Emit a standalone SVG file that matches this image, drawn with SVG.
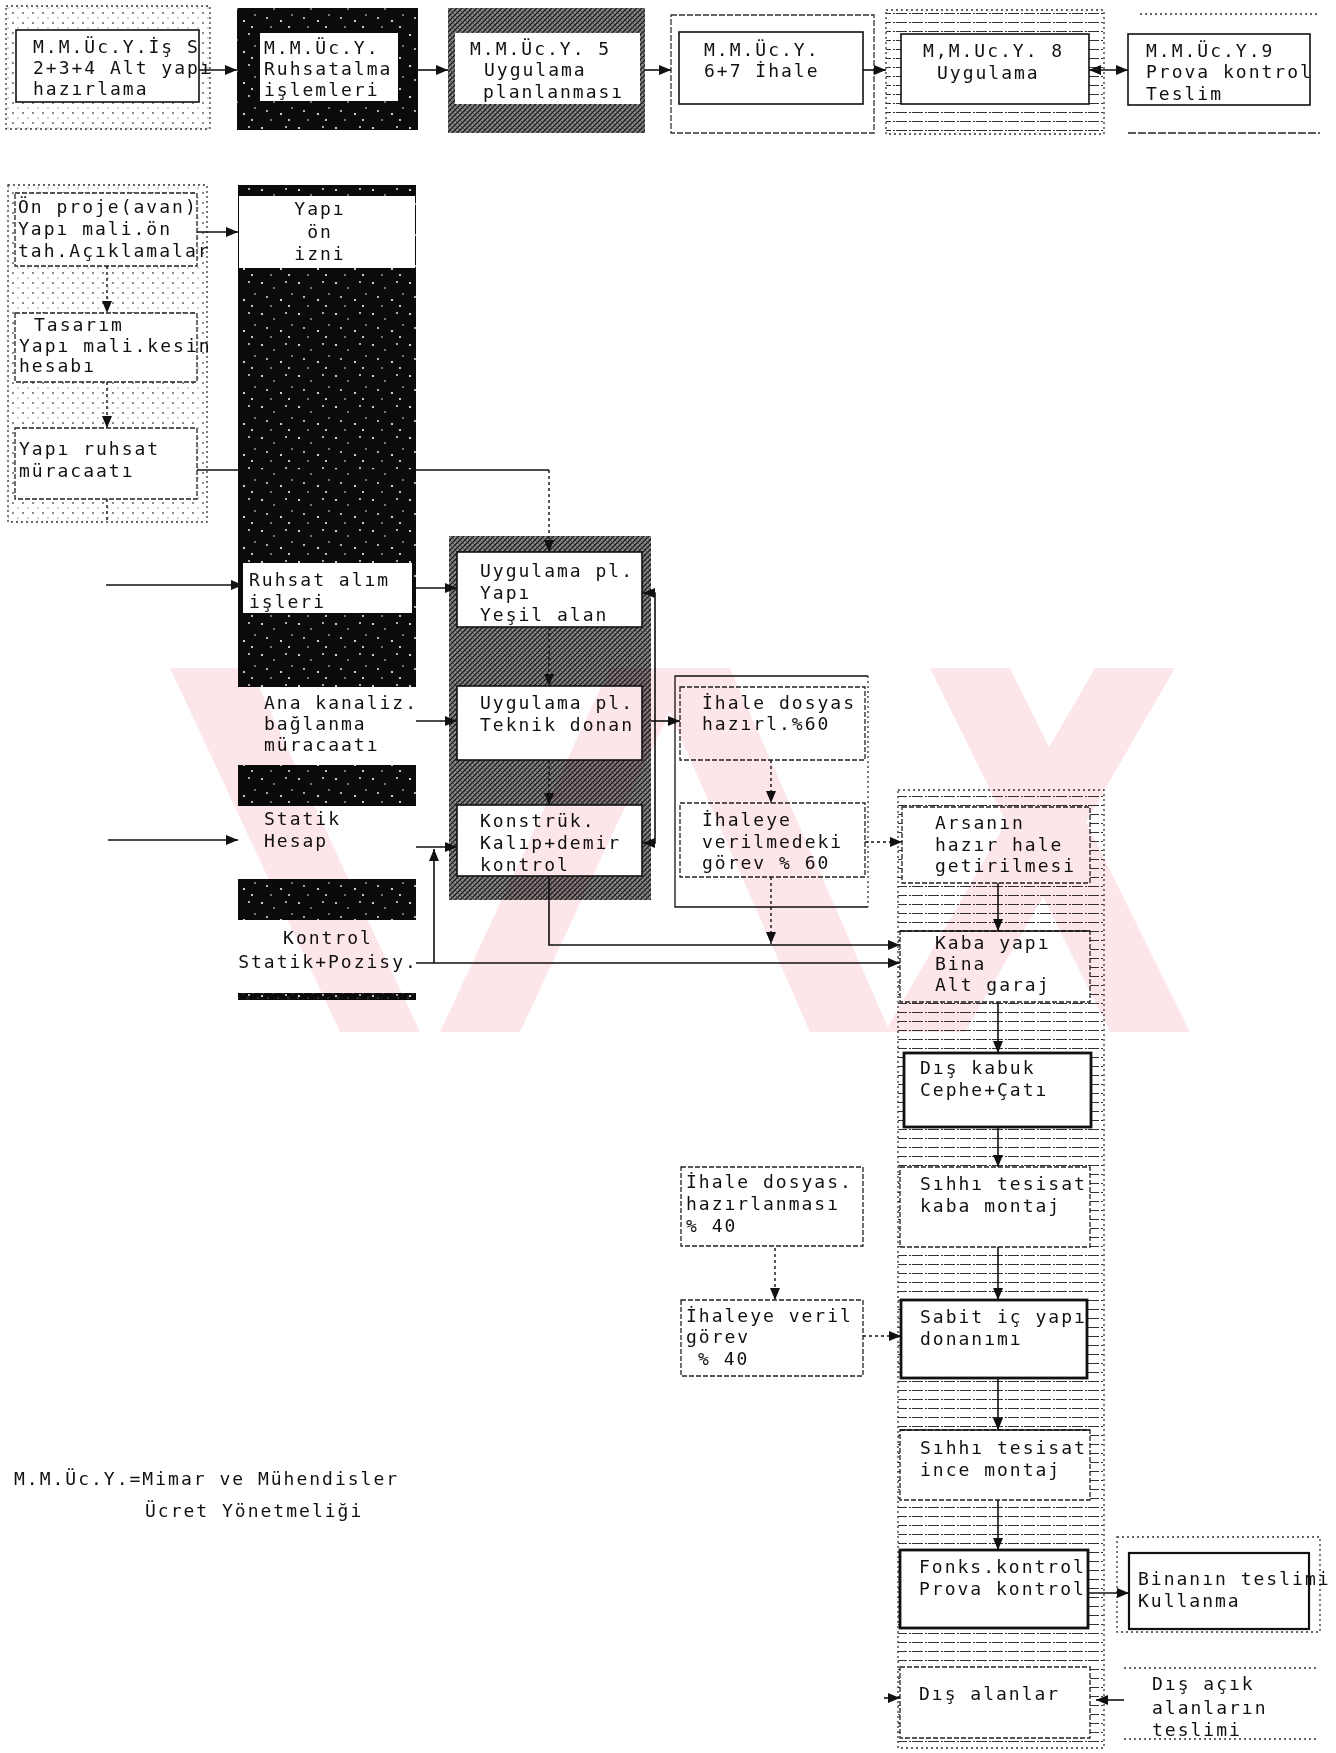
<svg xmlns="http://www.w3.org/2000/svg" width="1336" height="1753" viewBox="0 0 1336 1753">
<defs>
<style>
text{font-family:"DejaVu Sans Mono","Liberation Mono",monospace;font-size:18px;letter-spacing:2px;fill:#111}
.c{text-anchor:middle}
.box{fill:#fff;stroke:#111;stroke-width:1.6}
.wb{fill:#fff;stroke:none}
.thick{fill:#fff;stroke:#111;stroke-width:2.8}
.dbox{fill:#fff;stroke:#222;stroke-width:1.3;stroke-dasharray:5 2}
.dotf{stroke:#333;stroke-width:1.3;stroke-dasharray:2 3}
.ln{fill:none;stroke:#111;stroke-width:1.6}
.dl{fill:none;stroke:#111;stroke-width:1.4;stroke-dasharray:3 3}
.wm{fill:#fde6ea}
#watermark{mix-blend-mode:multiply}
</style>
<marker id="ah" viewBox="0 0 12 10" refX="12" refY="5" markerWidth="12" markerHeight="10" markerUnits="userSpaceOnUse" orient="auto-start-reverse"><path d="M0,0 L12,5 L0,10 z" fill="#111"/></marker>
<pattern id="speck" width="37" height="31" patternUnits="userSpaceOnUse">
<rect width="37" height="31" fill="#0b0b0b"/>
<circle cx="3" cy="4" r="1.1" fill="#fff"/><circle cx="15" cy="9" r="0.8" fill="#fff"/><circle cx="27" cy="3" r="0.9" fill="#fff"/><circle cx="8" cy="18" r="0.9" fill="#fff"/><circle cx="22" cy="21" r="1.1" fill="#fff"/><circle cx="33" cy="15" r="0.8" fill="#fff"/><circle cx="12" cy="27" r="0.8" fill="#fff"/><circle cx="30" cy="27" r="1" fill="#fff"/>
</pattern>
<pattern id="hatch" width="5" height="5" patternUnits="userSpaceOnUse">
<rect width="5" height="5" fill="#8a8a8a"/>
<path d="M0,5 L5,0 M-1,1 L1,-1 M4,6 L6,4" stroke="#1a1a1a" stroke-width="1.3"/>
<path d="M0,0 L5,5" stroke="#333" stroke-width="0.7"/>
</pattern>
<pattern id="dots" width="10" height="10" patternUnits="userSpaceOnUse">
<circle cx="3" cy="3" r="0.9" fill="#555"/><circle cx="8" cy="8" r="0.7" fill="#777"/>
</pattern>
<pattern id="hstr" width="16" height="9" patternUnits="userSpaceOnUse">
<path d="M0,4.5 H11 M13,4.5 H15" stroke="#333" stroke-width="1.1"/>
</pattern>
</defs>
<rect width="1336" height="1753" fill="#fff"/>

<g id="n1">
<rect x="6" y="6" width="204" height="123" fill="url(#dots)" class="dotf"/>
<rect x="16" y="30" width="183" height="72" class="box"/>
<text x="33" y="53">M.M.Üc.Y.İş S</text><text x="33" y="74">2+3+4 Alt yapı</text><text x="33" y="95">hazırlama</text>
</g>
<g id="n2">
<rect x="237" y="8" width="181" height="122" fill="url(#speck)"/>
<rect x="260" y="33" width="138" height="68" class="wb"/>
<text x="264" y="54">M.M.Üc.Y.</text><text x="264" y="75">Ruhsatalma</text><text x="264" y="96">işlemleri</text>
</g>
<g id="n3">
<rect x="448" y="8" width="197" height="125" fill="url(#hatch)"/>
<rect x="455" y="33" width="185" height="71" class="wb"/>
<text x="470" y="55">M.M.Üc.Y. 5</text><text x="484" y="76">Uygulama</text><text x="483" y="98">planlanması</text>
</g>
<g id="n4">
<rect x="671" y="15" width="203" height="118" fill="none" class="dotf" style="stroke-dasharray:6 2"/>
<rect x="679" y="32" width="184" height="72" class="box"/>
<text x="704" y="56">M.M.Üc.Y.</text><text x="704" y="77">6+7 İhale</text>
</g>
<g id="n5">
<rect x="886" y="10" width="218" height="124" fill="url(#hstr)" class="dotf"/>
<rect x="901" y="34" width="188" height="70" class="box"/>
<text x="923" y="57">M,M.Uc.Y. 8</text><text x="937" y="79">Uygulama</text>
</g>
<g id="n6">
<path d="M1140,14 H1320" class="dotf"/>
<path d="M1128,133 H1320" stroke="#222" stroke-width="1.3" stroke-dasharray="8 2"/>
<rect x="1128" y="34" width="182" height="71" class="box"/>
<text x="1146" y="57">M.M.Üc.Y.9</text><text x="1146" y="78">Prova kontrol</text><text x="1146" y="100">Teslim</text>
</g>

<g id="leftframe">
<rect x="8" y="185" width="199" height="337" fill="url(#dots)" class="dotf"/>
</g>
<g id="n_onproje">
<rect x="15" y="193" width="182" height="73" class="dbox"/>
<text x="18" y="213">Ön proje(avan)</text><text x="18" y="235">Yapı mali.ön</text><text x="18" y="257">tah.Açıklamalar</text>
</g>
<g id="n_tasarim">
<rect x="15" y="313" width="182" height="69" class="dbox"/>
<text x="34" y="331">Tasarım</text><text x="19" y="352">Yapı mali.kesin</text><text x="19" y="372">hesabı</text>
</g>
<g id="n_ruhsatmur">
<rect x="15" y="428" width="182" height="71" class="dbox"/>
<text x="19" y="455">Yapı ruhsat</text><text x="19" y="477">müracaatı</text>
</g>

<g id="blackcol">
<rect x="238" y="185" width="178" height="815" fill="url(#speck)"/>
<rect x="238" y="993" width="178" height="7" fill="url(#dots)"/>
</g>
<g id="n_onizin">
<rect x="239" y="196" width="176" height="72" class="wb"/>
<text class="c" x="320" y="215">Yapı</text><text class="c" x="320" y="238">ön</text><text class="c" x="320" y="260">izni</text>
</g>
<g id="n_ruhsatalim">
<rect x="243" y="563" width="169" height="50" class="wb"/>
<text x="249" y="586">Ruhsat alım</text><text x="249" y="608">işleri</text>
</g>
<g id="n_kanaliz">
<rect x="238" y="687" width="178" height="78" class="wb"/>
<text x="264" y="709">Ana kanaliz.</text><text x="264" y="730">bağlanma</text><text x="264" y="751">müracaatı</text>
</g>
<g id="n_statik">
<rect x="238" y="806" width="178" height="73" class="wb"/>
<text x="264" y="825">Statik</text><text x="264" y="847">Hesap</text>
</g>
<g id="n_kontrol">
<rect x="238" y="920" width="178" height="73" class="wb"/>
<text class="c" x="328" y="944">Kontrol</text><text class="c" x="328" y="968">Statik+Pozisy.</text>
</g>

<g id="midcol">
<rect x="449" y="536" width="202" height="364" fill="url(#hatch)"/>
</g>
<g id="n_uyg_yapi">
<rect x="457" y="552" width="185" height="75" class="box"/>
<text x="480" y="577">Uygulama pl.</text><text x="480" y="599">Yapı</text><text x="480" y="621">Yeşil alan</text>
</g>
<g id="n_uyg_teknik">
<rect x="457" y="686" width="185" height="74" class="box"/>
<text x="480" y="709">Uygulama pl.</text><text x="480" y="731">Teknik donan</text>
</g>
<g id="n_konstruk">
<rect x="457" y="805" width="185" height="71" class="box"/>
<text x="480" y="827">Konstrük.</text><text x="480" y="849">Kalıp+demir</text><text x="480" y="871">kontrol</text>
</g>

<g id="ihaleframe">
<path d="M868,676 H675 V907 H868" class="ln" style="stroke-width:1.3"/>
<path d="M868,676 V907" class="dotf" fill="none"/>
</g>
<g id="n_ihale60">
<rect x="680" y="687" width="185" height="73" class="dbox"/>
<text x="702" y="709">İhale dosyas</text><text x="702" y="730">hazırl.%60</text>
</g>
<g id="n_ihaleye60">
<rect x="680" y="803" width="185" height="74" class="dbox"/>
<text x="702" y="826">İhaleye</text><text x="702" y="848">verilmedeki</text><text x="702" y="869">görev % 60</text>
</g>

<g id="rightcol">
<rect x="898" y="790" width="206" height="958" fill="url(#hstr)" class="dotf"/>
</g>
<g id="n_arsa">
<rect x="902" y="807" width="188" height="76" class="dbox"/>
<text x="935" y="829">Arsanın</text><text x="935" y="851">hazır hale</text><text x="935" y="872">getirilmesi</text>
</g>
<g id="n_kaba">
<rect x="900" y="931" width="190" height="71" class="dbox"/>
<path d="M900,931 H1090" class="ln"/>
<text x="935" y="949">Kaba yapı</text><text x="935" y="970">Bina</text><text x="935" y="991">Alt garaj</text>
</g>
<g id="n_diskabuk">
<rect x="904" y="1053" width="187" height="74" class="thick"/>
<text x="920" y="1074">Dış kabuk</text><text x="920" y="1096">Cephe+Çatı</text>
</g>
<g id="n_sihhikaba">
<rect x="900" y="1167" width="190" height="80" class="dbox"/>
<text x="920" y="1190">Sıhhı tesisat</text><text x="920" y="1212">kaba montaj</text>
</g>
<g id="n_sabit">
<rect x="901" y="1300" width="186" height="78" class="thick"/>
<text x="920" y="1323">Sabit iç yapı</text><text x="920" y="1345">donanımı</text>
</g>
<g id="n_sihhiince">
<rect x="900" y="1430" width="190" height="70" class="dbox"/>
<path d="M900,1430 H1090" class="ln"/>
<text x="920" y="1454">Sıhhı tesisat</text><text x="920" y="1476">ince montaj</text>
</g>
<g id="n_fonks">
<rect x="900" y="1550" width="188" height="78" class="thick"/>
<text x="919" y="1573">Fonks.kontrol</text><text x="919" y="1595">Prova kontrol</text>
</g>
<g id="n_disalan">
<rect x="900" y="1667" width="190" height="71" class="dbox"/>
<text x="919" y="1700">Dış alanlar</text>
</g>

<g id="n_bina">
<rect x="1117" y="1537" width="203" height="95" fill="none" class="dotf"/>
<rect x="1129" y="1553" width="180" height="76" class="box" style="stroke-width:2.2"/>
<text x="1138" y="1585">Binanın teslimi</text><text x="1138" y="1607">Kullanma</text>
</g>
<g id="n_disacik">
<path d="M1124,1668 H1319 M1124,1739 H1319" class="dotf" fill="none"/>
<text x="1152" y="1690">Dış açık</text><text x="1152" y="1714">alanların</text><text x="1152" y="1736">teslimi</text>
</g>

<g id="n_ihale40">
<rect x="681" y="1167" width="182" height="79" class="dbox"/>
<text x="686" y="1188">İhale dosyas.</text><text x="686" y="1210">hazırlanması</text><text x="686" y="1232">% 40</text>
</g>
<g id="n_ihaleye40">
<rect x="681" y="1300" width="182" height="76" class="dbox"/>
<text x="686" y="1322">İhaleye veril</text><text x="686" y="1343">görev</text><text x="698" y="1365">% 40</text>
</g>

<g id="legend">
<text x="14" y="1485">M.M.Üc.Y.=Mimar ve Mühendisler</text>
<text x="145" y="1517">Ücret Yönetmeliği</text>
</g>

<g id="connectors">
<path d="M199,70 H237" class="ln" marker-end="url(#ah)"/>
<path d="M418,70 H448" class="ln" marker-end="url(#ah)"/>
<path d="M645,70 H671" class="ln" marker-end="url(#ah)"/>
<path d="M863,70 H886" class="ln" marker-end="url(#ah)"/>
<path d="M1089,70 H1128" class="ln" marker-start="url(#ah)" marker-end="url(#ah)"/>
<path d="M197,232 H238" class="ln" marker-end="url(#ah)"/>
<path d="M107,266 V313" class="dl" marker-end="url(#ah)"/>
<path d="M107,382 V428" class="dl" marker-end="url(#ah)"/>
<path d="M107,499 V522" class="dl"/>
<path d="M197,470 H549" class="ln"/>
<path d="M549,470 V552" class="dl" marker-end="url(#ah)"/>
<path d="M106,585 H243" class="ln" marker-end="url(#ah)"/>
<path d="M412,588 H457" class="ln" marker-end="url(#ah)"/>
<path d="M549,627 V686" class="dl" marker-end="url(#ah)"/>
<path d="M549,760 V805" class="dl" marker-end="url(#ah)"/>
<path d="M643,593 H655 V843 H643" class="ln" marker-start="url(#ah)" marker-end="url(#ah)"/>
<path d="M416,721 H457" class="ln" marker-end="url(#ah)"/>
<path d="M651,721 H680" class="ln" marker-end="url(#ah)"/>
<path d="M108,840 H238" class="ln" marker-end="url(#ah)"/>
<path d="M416,847 H457" class="ln" marker-end="url(#ah)"/>
<path d="M416,963 H900" class="ln" marker-end="url(#ah)"/>
<path d="M434,963 V849" class="ln" marker-end="url(#ah)"/>
<path d="M549,876 V945 H900" class="ln" marker-end="url(#ah)"/>
<path d="M771,760 V803" class="dl" marker-end="url(#ah)"/>
<path d="M771,877 V944" class="dl" marker-end="url(#ah)"/>
<path d="M865,842 H902" class="dl" marker-end="url(#ah)"/>
<path d="M998,883 V931" class="ln" marker-end="url(#ah)"/>
<path d="M998,1002 V1053" class="ln" marker-end="url(#ah)"/>
<path d="M998,1127 V1167" class="ln" marker-end="url(#ah)"/>
<path d="M998,1247 V1300" class="ln" marker-end="url(#ah)"/>
<path d="M998,1378 V1430" class="ln" marker-end="url(#ah)"/>
<path d="M998,1500 V1550" class="ln" marker-end="url(#ah)"/>
<path d="M1088,1593 H1129" class="ln" marker-end="url(#ah)"/>
<path d="M1124,1700 H1096" class="ln" marker-end="url(#ah)"/>
<path d="M884,1698 H900" class="ln" marker-end="url(#ah)"/>
<path d="M775,1248 V1300" class="dl" marker-end="url(#ah)"/>
<path d="M863,1336 H901" class="dl" marker-end="url(#ah)"/>
</g>

<g id="watermark">
<polygon class="wm" points="170,668 250,668 420,1032 340,1032"/>
<polygon class="wm" points="610,668 690,668 520,1032 440,1032"/>
<polygon class="wm" points="650,668 730,668 890,1032 810,1032"/>
<polygon class="wm" points="930,668 1010,668 1190,1032 1110,1032"/>
<polygon class="wm" points="1095,668 1175,668 965,1032 885,1032"/>
</g>
</svg>
